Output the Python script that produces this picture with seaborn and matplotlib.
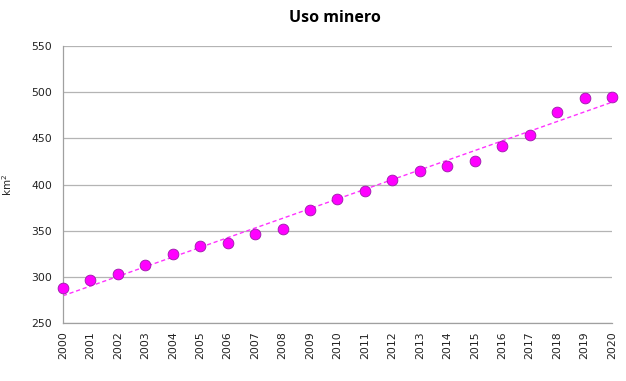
import numpy as np
import pandas as pd
import seaborn as sns
import matplotlib.pyplot as plt


# =========================
# Data
# =========================

years = list(range(2000, 2021))
area_km2 = [288, 297, 303, 313, 325, 333, 337, 346, 352, 372,
            384, 393, 405, 415, 420, 426, 442, 454, 479, 494, 495]

df = pd.DataFrame({"anio": years, "km2": area_km2})


# =========================
# Plot
# =========================

sns.set_style("white")
plt.rcParams["font.family"] = ["DejaVu Sans"]

fig = plt.figure(figsize=(6.26, 3.81), dpi=100)
ax = fig.add_axes([0.1006, 0.152, 0.877, 0.727])

ax.yaxis.grid(True, color="#b4b4b4", linewidth=0.9)
ax.set_axisbelow(True)

# linear trend line
sns.regplot(
    data=df, x="anio", y="km2", ax=ax,
    scatter=False, ci=None, truncate=True,
    line_kws={"color": "#ff33ff", "linestyle": (0, (3, 2)), "linewidth": 1.0}
)

sns.scatterplot(
    data=df, x="anio", y="km2", ax=ax,
    color="#ff00ff", edgecolor="#9a1aa8", linewidth=0.6, s=60, zorder=3,
    clip_on=False
)

ax.set_xlim(2000, 2020)
ax.set_ylim(250, 550)
ax.set_xticks(years)
ax.set_xticklabels([str(y) for y in years], rotation=90, fontsize=7.8)
ax.set_yticks(range(250, 551, 50))
ax.tick_params(axis="y", labelsize=7.8)
ax.tick_params(axis="both", direction="out", length=4, width=0.9,
               color="#a0a0a0", labelcolor="#222222", pad=2)
ax.tick_params(axis="y", pad=4)

for side in ["top", "right"]:
    ax.spines[side].set_visible(False)
for side in ["left", "bottom"]:
    ax.spines[side].set_color("#a0a0a0")
    ax.spines[side].set_linewidth(0.9)

ax.set_xlabel("")
ax.set_ylabel("km$^2$", fontsize=7.5, labelpad=12)

fig.suptitle("Uso minero", x=0.535, y=0.975, fontsize=11.5,
             fontweight="bold", fontfamily="Open Sans", color="black")

fig.savefig("out.png", dpi=100)
